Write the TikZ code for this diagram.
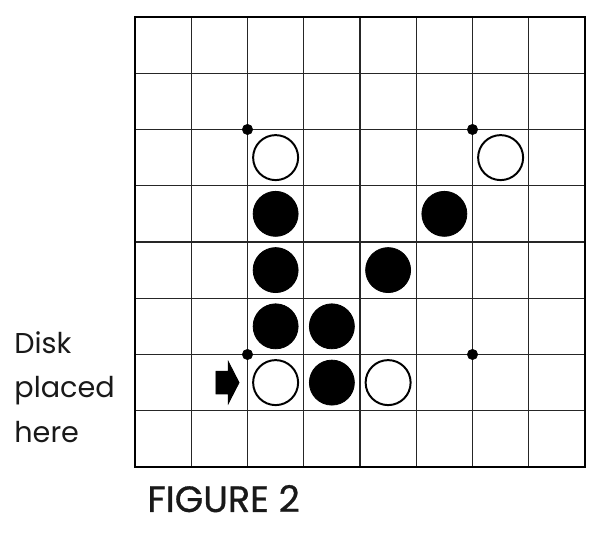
\documentclass[tikz,border=0pt]{standalone}
\usepackage{fontspec}
\setmainfont{Poppins}
\usepackage{tikz}
\def\whitedisk(#1){\draw[line width=0.35mm, fill=white] (#1) circle (0.4);}
\def\blackdisk(#1){\draw[fill=black] (#1) circle (0.4);}
\def\cornerdot(#1){\draw[fill=black] (#1) circle (0.09);}

\begin{document}
\begin{tikzpicture}
			%%%%% START %%%%%
			\useasboundingbox (-2.4, -1.476) rectangle (8.249, 8.302);

			\draw[line width=0.2mm, color=black!85] (0.01, 0.01) grid (7.99, 7.99);
			\draw[line width=0.45mm] (0, 0) rectangle (8, 8);

			\cornerdot(2, 6)
			\cornerdot(6, 6)
			\cornerdot(2, 2)
			\cornerdot(6, 2)

			\whitedisk(2.5, 5.5)
			\whitedisk(6.5, 5.5)

			\blackdisk(2.5, 4.5)
			\blackdisk(5.5, 4.5)

			\blackdisk(2.5, 3.5)
			\blackdisk(4.5, 3.5)

			\blackdisk(2.5, 2.5)
			\blackdisk(3.5, 2.5)

			\whitedisk(2.5, 1.5)
			\blackdisk(3.5, 1.5)
			\whitedisk(4.5, 1.5)

			\draw[fill=black] (1.44, 1.3) -- (1.66, 1.3) -- (1.66, 1.13) -- (1.85, 1.5) -- (1.66, 1.87) -- (1.66, 1.7) -- (1.44, 1.7) -- cycle;

			\node[anchor=base west, inner sep=0, align=left, text=black!90, font=\fontsize{14.5}{22.5}\selectfont] (placed) at (-2.151, 0.444) {Disk\\placed\\here};

			\node[anchor=base west, inner sep=0, text=black!90, font=\fontsize{18.5}{22}\selectfont\addfontfeature{FakeBold=0.8}] (caption) at (0.213, -0.8) {FIGURE 2};
			%%%%% END %%%%%
\end{tikzpicture}
\end{document}
